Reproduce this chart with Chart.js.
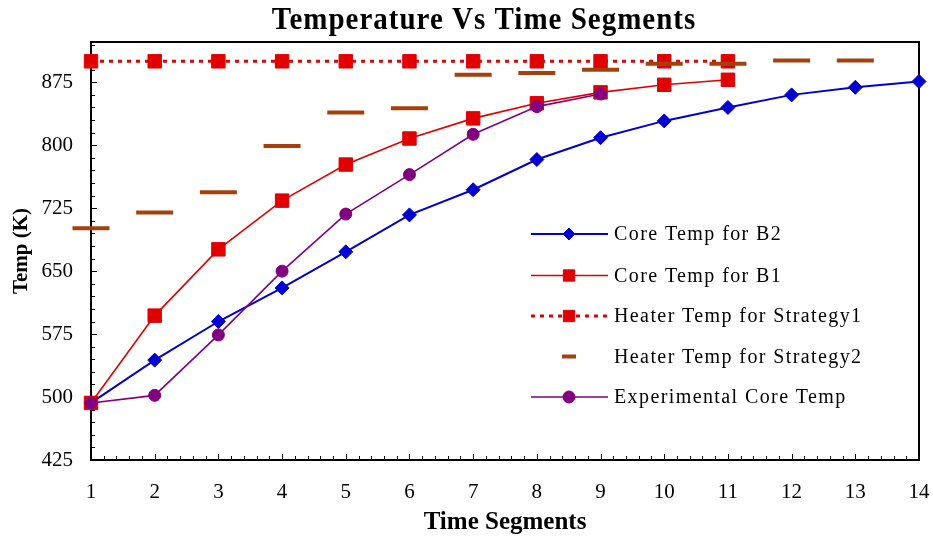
<!DOCTYPE html>
<html>
<head>
<meta charset="utf-8">
<title>Temperature Vs Time Segments</title>
<script src="https://cdn.jsdelivr.net/npm/chart.js@4.4.1/dist/chart.umd.min.js"></script>
<style>
  html, body { margin: 0; padding: 0; background: #fff; }
  #wrap { width: 933px; height: 540px; position: relative; }
</style>
</head>
<body>
<div id="wrap"><canvas id="myChart"></canvas></div>
<script>
// time segments and temperatures (K)
const segments = [1, 2, 3, 4, 5, 6, 7, 8, 9, 10, 11, 12, 13, 14];
const coreB2 = [493, 544, 590, 630, 673, 717, 747, 783, 809, 829, 845, 860, 869, 876];
const coreB1 = [493, 597, 676, 734, 777, 808, 832, 850, 863, 872, 878];
const heaterS1 = [900, 900, 900, 900, 900, 900, 900, 900, 900, 900, 900];
const heaterS2 = [701, 720, 744, 799, 839, 844, 884, 886, 890, 897, 897, 901, 901];
const experimental = [493, 502, 574, 650, 718, 765, 813, 846, 861];
const yTicks = [425, 500, 575, 650, 725, 800, 875];

const SERIF = '"Liberation Serif", "Times New Roman", serif';
const pts = arr => arr.map((v, i) => ({ x: segments[i], y: v }));

// frame, inward tick marks, title and the in-plot legend
const decorations = {
  id: 'decorations',
  beforeDatasetsDraw(chart) {
    const { ctx, chartArea: a, scales: { x, y } } = chart;
    ctx.save();
    ctx.strokeStyle = '#000';
    ctx.lineWidth = 1;
    ctx.beginPath();
    for (let v = 425; v <= 923; v += 15) {
      const py = Math.round(y.getPixelForValue(v)) + 0.5;
      const len = yTicks.includes(v) ? 6 : 4;
      ctx.moveTo(a.left, py);
      ctx.lineTo(a.left + len, py);
    }
    for (let v = 1; v <= 14.001; v += 0.2) {
      const px = Math.round(x.getPixelForValue(v)) + 0.5;
      const major = Math.abs(v - Math.round(v)) < 0.01;
      ctx.moveTo(px, a.bottom);
      ctx.lineTo(px, a.bottom - (major ? 6 : 4));
    }
    ctx.stroke();
    ctx.lineWidth = 2;
    ctx.strokeRect(a.left, a.top, a.right - a.left, a.bottom - a.top);
    ctx.restore();
  },
  afterDraw(chart) {
    const { ctx } = chart;
    ctx.save();
    ctx.fillStyle = '#000';
    ctx.textAlign = 'center';
    ctx.textBaseline = 'middle';
    ctx.font = 'bold 29px ' + SERIF;
    ctx.letterSpacing = '1px';
    ctx.translate(484, 21);
    ctx.scale(1, 1.08);
    ctx.fillText('Temperature Vs Time Segments', 0, 0);
    ctx.restore();

    // legend
    const rows = [234, 275.5, 316, 356.5, 397];
    const order = [2, 1, 3, 4, 0];
    ctx.save();
    ctx.font = '20px ' + SERIF;
    ctx.letterSpacing = '1.4px';
    ctx.textBaseline = 'middle';
    ctx.textAlign = 'left';
    order.forEach((di, r) => {
      const ds = chart.data.datasets[di];
      const cy = rows[r];
      if (ds.showLine !== false) {
        ctx.save();
        ctx.strokeStyle = ds.borderColor;
        ctx.lineWidth = ds.borderWidth;
        ctx.setLineDash(ds.borderDash || []);
        ctx.beginPath();
        ctx.moveTo(531, cy);
        ctx.lineTo(608, cy);
        ctx.stroke();
        ctx.restore();
      }
      ctx.save();
      ctx.fillStyle = ds.pointBackgroundColor;
      ctx.strokeStyle = ds.pointBorderColor;
      ctx.lineWidth = ds.pointBorderWidth;
      Chart.helpers.drawPoint(ctx, {
        pointStyle: ds.pointStyle,
        radius: ds.legendRadius || ds.pointRadius,
        borderWidth: ds.pointBorderWidth,
        rotation: 0
      }, 569, cy);
      ctx.restore();
      ctx.fillStyle = '#000';
      ctx.fillText(ds.label, 614, cy + 1);
    });
    ctx.restore();
  }
};

const ctx = document.getElementById('myChart').getContext('2d');
new Chart(ctx, {
  type: 'line',
  data: {
    datasets: [
      {
        label: 'Experimental Core Temp',
        data: pts(experimental),
        borderColor: '#800080',
        borderWidth: 1.6,
        pointStyle: 'circle',
        pointRadius: 6,
        pointBackgroundColor: '#800080',
        pointBorderColor: '#800080',
        pointBorderWidth: 1,
        order: 0
      },
      {
        label: 'Core Temp for B1',
        data: pts(coreB1),
        borderColor: '#E00000',
        borderWidth: 1.6,
        pointStyle: 'rect',
        pointRadius: 9.5,
        legendRadius: 8,
        pointBackgroundColor: '#E00000',
        pointBorderColor: '#E00000',
        pointBorderWidth: 1,
        order: 1
      },
      {
        label: 'Core Temp for B2',
        data: pts(coreB2),
        borderColor: '#0000D0',
        borderWidth: 2,
        pointStyle: 'rectRot',
        pointRadius: 7,
        legendRadius: 6,
        pointBackgroundColor: '#0000D0',
        pointBorderColor: '#0000D0',
        pointBorderWidth: 1,
        order: 2
      },
      {
        label: 'Heater Temp for Strategy1',
        data: pts(heaterS1),
        borderColor: '#E00000',
        borderWidth: 3,
        borderDash: [4, 5],
        pointStyle: 'rect',
        pointRadius: 9.5,
        legendRadius: 8,
        pointBackgroundColor: '#E00000',
        pointBorderColor: '#E00000',
        pointBorderWidth: 1,
        order: 4
      },
      {
        label: 'Heater Temp for Strategy2',
        data: pts(heaterS2),
        showLine: false,
        borderColor: '#A3400C',
        borderWidth: 4,
        pointStyle: 'line',
        pointRadius: 18.5,
        legendRadius: 7,
        pointBackgroundColor: '#A3400C',
        pointBorderColor: '#A3400C',
        pointBorderWidth: 4,
        order: 3
      }
    ]
  },
  options: {
    responsive: true,
    maintainAspectRatio: false,
    animation: false,
    clip: false,
    layout: { autoPadding: false, padding: { top: 42, right: 14, left: 0, bottom: 0 } },
    elements: { line: { tension: 0 }, point: { hoverRadius: 6 } },
    plugins: {
      legend: { display: false },
      title: { display: false },
      tooltip: { enabled: false }
    },
    scales: {
      x: {
        type: 'linear',
        min: 1,
        max: 14,
        grid: { display: false, drawTicks: false },
        border: { display: false },
        ticks: {
          stepSize: 1,
          padding: 20,
          color: '#000',
          font: { family: SERIF, size: 21 },
          maxRotation: 0
        },
        title: {
          display: true,
          text: 'Time Segments',
          color: '#000',
          font: { family: SERIF, size: 25, weight: 'bold' },
          padding: { top: 0, bottom: 2 }
        },
        afterFit(scale) {
          scale.height = 80;
          scale.paddingLeft = 0;
          scale.paddingRight = 0;
        }
      },
      y: {
        min: 425,
        max: 923,
        grid: { display: false, drawTicks: false },
        border: { display: false },
        ticks: {
          padding: 18,
          color: '#000',
          font: { family: SERIF, size: 21 }
        },
        afterBuildTicks(scale) { scale.ticks = yTicks.map(v => ({ value: v })); },
        title: {
          display: true,
          text: 'Temp (K)',
          color: '#000',
          font: { family: SERIF, size: 21, weight: 'bold' },
          padding: { top: 9, bottom: 0 }
        },
        afterFit(scale) {
          scale.width = 91;
          scale.paddingTop = 0;
          scale.paddingBottom = 0;
        }
      }
    }
  },
  plugins: [decorations]
});
</script>
</body>
</html>
